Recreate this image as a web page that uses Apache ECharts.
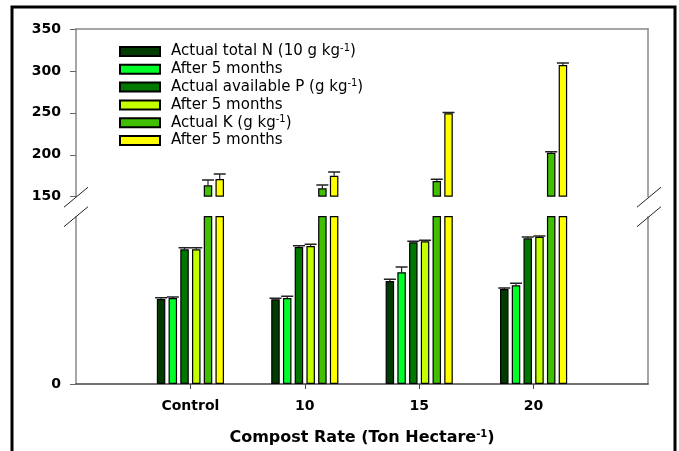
<!DOCTYPE html>
<html>
<head>
<meta charset="utf-8">
<script src="https://cdn.jsdelivr.net/npm/echarts@6/dist/echarts.min.js"></script>
<style>
html,body{margin:0;padding:0;background:#fff;}
#chart{width:679px;height:451px;}
</style>
</head>
<body>
<div id="chart"></div>
<script>
// ---- data ----
const categories = ['Control', '10', '15', '20'];
const nActual    = [50.8, 50.6, 61.6, 56.8];
const nActualErr = [0.8, 0.6, 1.0, 0.6];
const nAfter     = [51.4, 51.4, 66.8, 59.0];
const nAfterErr  = [0.6, 1.0, 3.1, 1.2];
const pActual    = [80.5, 81.9, 84.7, 87.1];
const pActualErr = [1.0, 0.8, 0.6, 0.8];
const pAfter     = [80.5, 82.5, 85.3, 88.0];
const pAfterErr  = [1.0, 1.0, 0.6, 0.5];
const kActual    = [163.6, 160.0, 168.7, 202.5];
const kActualErr = [6.3, 4.0, 2.0, 1.2];
const kAfter     = [171.0, 175.0, 249.5, 307.0];
const kAfterErr  = [6.0, 4.5, 1.0, 2.5];
const upperTicks = [150, 200, 250, 300, 350];
const lowerTicks = [0];
const lowerMax = 100;
const seriesNames = ['N0', 'N5', 'P0', 'P5', 'K0', 'K5'];
const legendLabels = [
  'Actual total N (10 g kg{sup|-1})',
  'After 5 months',
  'Actual available P (g kg{sup|-1})',
  'After 5 months',
  'Actual K (g kg{sup|-1})',
  'After 5 months'
];
const colors = ['#003c00', '#00ff28', '#007800', '#c4ff00', '#40c000', '#ffff00'];

// ---- layout constants ----
const FONT = 'DejaVu Sans';
const LEFT = 76, RIGHT_X = 648;
const UP_TOP = 29, UP_BOTTOM = 196.7;
const LOW_TOP = 216.7, LOW_BOTTOM = 384;
const BAR_W = 8.5, BAR_GAP = 0.38;
const PITCH = BAR_W * (1 + BAR_GAP);

const xCats = [''].concat(categories, ['']);
const pad = arr => [null].concat(arr, [null]);
const empty = categories.map(() => null);

const lowerSets = [
  [nActual, nActualErr], [nAfter, nAfterErr], [pActual, pActualErr],
  [pAfter, pAfterErr], [kActual, kActualErr], [kAfter, kAfterErr]
];

const series = [];
// upper grid bars (only K visible)
seriesNames.forEach((name, i) => {
  const vals = i >= 4 ? lowerSets[i][0] : empty;
  series.push({
    type: 'bar', name, xAxisIndex: 0, yAxisIndex: 0,
    data: pad(vals), barWidth: BAR_W, barGap: (BAR_GAP * 100) + '%',
    itemStyle: {color: colors[i], borderColor: '#000', borderWidth: 1.2},
    clip: true, animation: false
  });
});
// lower grid bars
seriesNames.forEach((name, i) => {
  series.push({
    type: 'bar', name, xAxisIndex: 1, yAxisIndex: 2,
    data: pad(lowerSets[i][0]), barWidth: BAR_W, barGap: (BAR_GAP * 100) + '%',
    itemStyle: {color: colors[i], borderColor: '#000', borderWidth: 1.2},
    clip: true, animation: false
  });
});

function errRender(params, api) {
  const c = api.value(0), v = api.value(1), e = api.value(2), k = api.value(3);
  const base = api.coord([c, v]);
  const top = api.coord([c, v + e]);
  const x = base[0] + (k - 2.5) * PITCH;
  return {
    type: 'group',
    children: [
      {type: 'line', shape: {x1: x, y1: base[1], x2: x, y2: top[1]}, style: {stroke: '#222', lineWidth: 1.2}},
      {type: 'line', shape: {x1: x - 6, y1: top[1], x2: x + 6, y2: top[1]}, style: {stroke: '#222', lineWidth: 1.5}}
    ]
  };
}
function errData(slots) {
  const out = [];
  slots.forEach(k => {
    const [vals, errs] = lowerSets[k];
    vals.forEach((v, j) => out.push([j + 1, v, errs[j], k]));
  });
  return out;
}
series.push({
  type: 'custom', xAxisIndex: 0, yAxisIndex: 0, renderItem: errRender,
  data: errData([4, 5]), encode: {x: 0, y: 1}, z: 5, clip: true, silent: true, animation: false
});
series.push({
  type: 'custom', xAxisIndex: 1, yAxisIndex: 2, renderItem: errRender,
  data: errData([0, 1, 2, 3]), encode: {x: 0, y: 1}, z: 5, clip: true, silent: true, animation: false
});

const tickFont = {fontFamily: FONT, fontWeight: 'bold', fontSize: 14, color: '#000'};
const frameLine = {show: true, onZero: false, lineStyle: {color: '#888', width: 1.5}};

function slash(cx, cy) {
  return {type: 'line', shape: {x1: cx - 12, y1: cy + 10, x2: cx + 12, y2: cy - 10},
          style: {stroke: '#222', lineWidth: 1}, z: 100};
}

const option = {
  backgroundColor: '#fff',
  animation: false,
  grid: [
    {left: LEFT, right: 679 - RIGHT_X, top: UP_TOP, height: UP_BOTTOM - UP_TOP, containLabel: false},
    {left: LEFT, right: 679 - RIGHT_X, top: LOW_TOP, height: LOW_BOTTOM - LOW_TOP, containLabel: false}
  ],
  legend: {
    left: 119, top: 43, orient: 'vertical', padding: 0, itemGap: 0.8,
    itemWidth: 40, itemHeight: 9, icon: 'rect',
    data: seriesNames,
    formatter: name => legendLabels[seriesNames.indexOf(name)],
    textStyle: {
      fontFamily: FONT, fontSize: 15, color: '#000', lineHeight: 17, padding: [0, 0, 0, 6],
      rich: {sup: {fontFamily: FONT, fontSize: 10, verticalAlign: 'top', lineHeight: 17, padding: [0, 0, 0, 0]}}
    }
  },
  xAxis: [
    {gridIndex: 0, type: 'category', data: xCats, boundaryGap: false, position: 'top',
     axisLine: frameLine, axisTick: {show: false}, axisLabel: {show: false}, splitLine: {show: false}},
    {gridIndex: 1, type: 'category', data: xCats, boundaryGap: false, position: 'bottom',
     axisLine: {show: true, onZero: false, lineStyle: {color: '#444', width: 1.5}},
     axisTick: {show: true, length: 5, interval: (i) => i > 0 && i < xCats.length - 1, lineStyle: {color: '#444'}},
     axisLabel: Object.assign({interval: 0, margin: 15}, tickFont),
     splitLine: {show: false},
     name: 'Compost Rate (Ton Hectare{sup|-1})', nameLocation: 'middle', nameGap: 45,
     nameTextStyle: {fontFamily: FONT, fontWeight: 'bold', fontSize: 16, color: '#000', lineHeight: 18,
       rich: {sup: {fontFamily: FONT, fontWeight: 'bold', fontSize: 10, verticalAlign: 'top', lineHeight: 18}}}}
  ],
  yAxis: [
    {gridIndex: 0, type: 'value', min: upperTicks[0], max: upperTicks[upperTicks.length - 1],
     interval: upperTicks[1] - upperTicks[0], startValue: upperTicks[0], position: 'left',
     axisLine: frameLine, axisTick: {show: true, length: 6, lineStyle: {color: '#666'}},
     axisLabel: Object.assign({margin: 15}, tickFont), splitLine: {show: false}},
    {gridIndex: 0, type: 'value', min: upperTicks[0], max: upperTicks[upperTicks.length - 1], position: 'right',
     axisLine: frameLine, axisTick: {show: false}, axisLabel: {show: false}, splitLine: {show: false}},
    {gridIndex: 1, type: 'value', min: 0, max: lowerMax, position: 'left',
     axisLine: frameLine,
     axisTick: {show: true, length: 6, customValues: lowerTicks, lineStyle: {color: '#666'}},
     axisLabel: Object.assign({margin: 15, customValues: lowerTicks}, tickFont), splitLine: {show: false}},
    {gridIndex: 1, type: 'value', min: 0, max: lowerMax, position: 'right',
     axisLine: frameLine, axisTick: {show: false}, axisLabel: {show: false}, splitLine: {show: false}}
  ],
  series: series,
  graphic: [
    {type: 'rect', shape: {x: 12, y: 7, width: 663, height: 520},
     style: {fill: 'none', stroke: '#000', lineWidth: 3}, z: 100, silent: true},
    slash(LEFT, UP_BOTTOM + 0.5), slash(LEFT, LOW_TOP),
    slash(RIGHT_X + 1, UP_BOTTOM + 0.5), slash(RIGHT_X + 1, LOW_TOP)
  ]
};

const chart = echarts.init(document.getElementById('chart'), null, {renderer: 'canvas'});
chart.setOption(option);
</script>
</body>
</html>
